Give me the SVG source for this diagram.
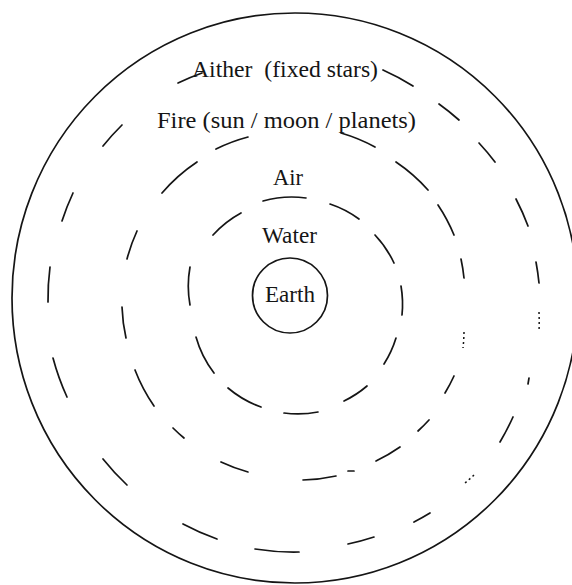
<svg xmlns="http://www.w3.org/2000/svg" width="572" height="585" viewBox="0 0 572 585">
<style>
.line{fill:none;stroke:#151515;stroke-width:1.7;stroke-linecap:round}
.dot{fill:none;stroke:#151515;stroke-width:1.5;stroke-dasharray:2 3}
.lbl{font-family:"Liberation Serif","Times New Roman",serif;font-size:23px;fill:#151515}
</style>
<rect x="0" y="0" width="572" height="585" fill="#ffffff"/>
<g id="outer-sphere">
<ellipse class="line" cx="295" cy="298" rx="283" ry="285"/>
</g>
<g id="fire-ring">
<path class="line" d="M178 83 A247 247 0 0 1 202 73"/>
<path class="line" d="M383 70 A247 247 0 0 1 413 86"/>
<path class="line" d="M439 104 A247 247 0 0 1 459 120"/>
<path class="line" d="M479 143 A247 247 0 0 1 495 162"/>
<path class="line" d="M516 199 A247 247 0 0 1 528 226"/>
<path class="line" d="M536 262 A247 247 0 0 1 539 283"/>
<path class="dot" d="M539 312 A247 247 0 0 1 539 332"/>
<path class="line" d="M529 378 L528 384"/>
<path class="line" d="M513 417 A247 247 0 0 1 500 442"/>
<path class="dot" d="M474 475 A247 247 0 0 1 465 483"/>
<path class="line" d="M430 513 A247 247 0 0 1 414 522"/>
<path class="line" d="M374 537 A247 247 0 0 1 348 544"/>
<path class="line" d="M299 552 A247 247 0 0 1 255 549"/>
<path class="line" d="M217 539 A247 247 0 0 1 183 524"/>
<path class="line" d="M127 485 A247 247 0 0 1 103 459"/>
<path class="line" d="M67 397 A247 247 0 0 1 53 358"/>
<path class="line" d="M48 302 A247 247 0 0 1 50 267"/>
<path class="line" d="M62 221 A247 247 0 0 1 73 193"/>
<path class="line" d="M103 146 A247 247 0 0 1 122 125"/>
</g>
<g id="air-ring">
<path class="line" d="M216 149 A171 171 0 0 1 248 137"/>
<path class="line" d="M341 133 A171 171 0 0 1 375 147"/>
<path class="line" d="M396 162 A171 171 0 0 1 428 190"/>
<path class="line" d="M438 205 A171 171 0 0 1 454 235"/>
<path class="line" d="M461 259 A171 171 0 0 1 464 278"/>
<path class="dot" d="M464 332 A171 171 0 0 1 463 348"/>
<path class="line" d="M454 376 A171 171 0 0 1 445 393"/>
<path class="line" d="M429 420 A171 171 0 0 1 418 431"/>
<path class="line" d="M400 447 A171 171 0 0 1 376 461"/>
<path class="line" d="M354 471 L348 471"/>
<path class="line" d="M336 476 A171 171 0 0 1 303 480"/>
<path class="line" d="M248 472 A171 171 0 0 1 221 462"/>
<path class="line" d="M184 438 A171 171 0 0 1 173 428"/>
<path class="line" d="M154 406 A171 171 0 0 1 135 370"/>
<path class="line" d="M126 338 A171 171 0 0 1 122 307"/>
<path class="line" d="M127 259 A171 171 0 0 1 137 231"/>
<path class="line" d="M162 193 A171 171 0 0 1 197 162"/>
</g>
<g id="water-ring">
<path class="line" d="M263 201 A106 106 0 0 1 306 198"/>
<path class="line" d="M330 204 A106 106 0 0 1 359 219"/>
<path class="line" d="M375 235 A106 106 0 0 1 394 263"/>
<path class="line" d="M401 286 A106 106 0 0 1 402 315"/>
<path class="line" d="M396 338 A106 106 0 0 1 384 364"/>
<path class="line" d="M367 386 A106 106 0 0 1 344 401"/>
<path class="line" d="M318 412 A106 106 0 0 1 284 413"/>
<path class="line" d="M261 407 A106 106 0 0 1 228 388"/>
<path class="line" d="M214 373 A106 106 0 0 1 196 337"/>
<path class="line" d="M190 305 A106 106 0 0 1 190 267"/>
<path class="line" d="M213 235 A106 106 0 0 1 241 213"/>
</g>
<g id="earth">
<circle class="line" cx="290" cy="295.5" r="37.5"/>
<text class="lbl" x="265" y="302" textLength="50" lengthAdjust="spacingAndGlyphs">Earth</text>
</g>
<g id="aither-label">
<text class="lbl" x="192" y="77" textLength="186" lengthAdjust="spacingAndGlyphs" xml:space="preserve">Aither  (fixed stars)</text>
</g>
<g id="fire-label">
<text class="lbl" x="157" y="128" textLength="259" lengthAdjust="spacingAndGlyphs">Fire (sun / moon / planets)</text>
</g>
<g id="air-label">
<text class="lbl" x="273" y="185" textLength="30" lengthAdjust="spacingAndGlyphs">Air</text>
</g>
<g id="water-label">
<text class="lbl" x="262" y="243" textLength="55" lengthAdjust="spacingAndGlyphs">Water</text>
</g>
</svg>
